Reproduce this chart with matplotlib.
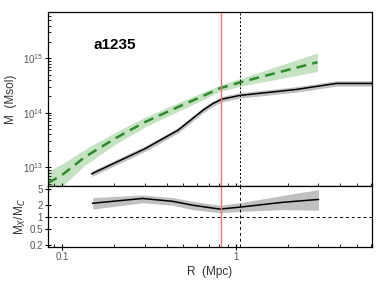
import numpy as np
import matplotlib
matplotlib.use("Agg")
import matplotlib.pyplot as plt
from matplotlib.ticker import FixedLocator, LogLocator, NullFormatter

plt.rcParams['font.family'] = ['Liberation Sans', 'DejaVu Sans']
plt.rcParams['mathtext.fontset'] = 'custom'
plt.rcParams['mathtext.rm'] = 'Liberation Sans'

cluster = "a1235"

# caustic mass profile (green dashed), log10 M with band edges
r_green = [0.083, 0.1, 0.1355, 0.202, 0.30, 0.446, 0.638, 0.81, 1.06, 2.96]
logm_green = [12.71, 12.86, 13.19, 13.53, 13.83, 14.08, 14.30, 14.45, 14.56, 14.93]
logm_green_lo = [12.30, 12.65, 13.04, 13.42, 13.74, 14.00, 14.23, 14.39, 14.49, 14.76]
logm_green_hi = [12.93, 13.06, 13.33, 13.64, 13.92, 14.16, 14.37, 14.51, 14.63, 15.10]

# X-ray mass profile (black), log10 M
r_x = [0.148, 0.30, 0.465, 0.655, 0.74, 0.83, 0.92, 1.055, 2.24, 3.8, 6.1]
logm_x = [12.88, 13.34, 13.68, 14.06, 14.17, 14.25, 14.28, 14.32, 14.43, 14.54, 14.54]
dlog_x = 0.05

# ratio Mx / Mc
r_ratio = [0.15, 0.29, 0.434, 0.566, 0.81, 1.055, 1.86, 3.0]
ratio = [2.24, 2.95, 2.5, 2.0, 1.6, 1.79, 2.36, 2.79]
ratio_lo = [1.6, 2.3, 2.0, 1.55, 1.3, 1.4, 1.55, 1.5]
ratio_hi = [3.1, 3.6, 3.1, 2.5, 2.0, 2.3, 3.5, 4.9]

r500 = 0.82
r200 = 1.055

xlim = (0.083, 6.1)

fig = plt.figure(figsize=(3.85, 2.89), dpi=100)
ax1 = fig.add_axes([0.125, 0.356, 0.841, 0.601])
ax2 = fig.add_axes([0.125, 0.145, 0.841, 0.211])

tick_col = '#555555'
red = '#ff7373'

def style(ax):
    ax.set_xscale('log')
    ax.set_yscale('log')
    ax.set_xlim(*xlim)
    ax.tick_params(which='major', direction='inout', length=4.5, width=0.8,
                   labelsize=7, labelcolor=tick_col, top=False, right=False, pad=1.5)
    ax.tick_params(which='minor', direction='in', length=2, width=0.6,
                   top=False, right=False)
    for s in ax.spines.values():
        s.set_linewidth(0.9)

# top panel
ax1.fill_between(r_green, 10 ** np.array(logm_green_lo), 10 ** np.array(logm_green_hi),
                 color='#c5e3c2', lw=0)
ax1.plot(r_green, 10 ** np.array(logm_green), ls=(0, (4, 2.5)), color='#2e8b2e', lw=1.8)
m = np.array(logm_x)
ax1.fill_between(r_x, 10 ** (m - dlog_x), 10 ** (m + dlog_x), color='#c0c0c0', lw=0)
ax1.plot(r_x, 10 ** m, color='black', lw=1.1)
ax1.axvline(r500, color=red, lw=1.0)
ax1.axvline(r200, color='black', lw=0.7, ls=(0, (2, 2)))
style(ax1)
ax1.set_ylim(4.5e12, 7e15)
ax1.yaxis.set_major_locator(FixedLocator([1e13, 1e14, 1e15]))
ax1.yaxis.set_minor_locator(LogLocator(base=10, subs=np.arange(2, 10)))
ax1.yaxis.set_minor_formatter(NullFormatter())
ax1.tick_params(axis='x', labelbottom=False)
ax1.set_ylabel('M  (Msol)', fontsize=8.5, color='#333333', labelpad=4)
ax1.text(0.139, 0.81, cluster, transform=ax1.transAxes, fontsize=11,
         fontweight='bold', ha='left', va='center')

# bottom panel
ax2.fill_between(r_ratio, ratio_lo, ratio_hi, color='#c0c0c0', lw=0)
ax2.plot(r_ratio, ratio, color='black', lw=1.1)
ax2.axhline(1.0, color='black', lw=0.7, ls=(0, (3, 3)))
ax2.axvline(r500, color=red, lw=1.0)
ax2.axvline(r200, color='black', lw=0.7, ls=(0, (3, 3)))
style(ax2)
ax2.set_ylim(0.18, 6)
ax2.yaxis.set_major_locator(FixedLocator([0.2, 0.5, 1, 2, 5]))
ax2.yaxis.set_major_formatter(plt.FuncFormatter(lambda v, p: '%g' % v))
ax2.yaxis.set_minor_locator(FixedLocator([]))
ax2.xaxis.set_major_locator(FixedLocator([0.1, 1]))
ax2.xaxis.set_major_formatter(plt.FuncFormatter(lambda v, p: '%g' % v))
ax2.xaxis.set_minor_locator(LogLocator(base=10, subs=np.arange(2, 10)))
ax2.xaxis.set_minor_formatter(NullFormatter())
ax2.set_ylabel('M$_X$/M$_C$', fontsize=8.5, color='#333333', labelpad=1)
ax2.set_xlabel('R  (Mpc)', fontsize=8.5, color='#333333', labelpad=3)

fig.savefig('out.png', dpi=100)
